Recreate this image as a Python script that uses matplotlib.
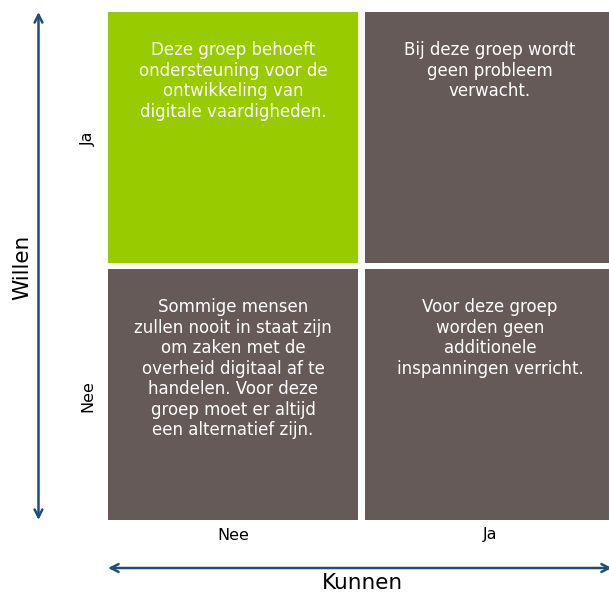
import matplotlib.pyplot as plt

# 2x2 matrix: Kunnen (x) versus Willen (y)
kunnen = ["Nee", "Ja"]
willen = ["Ja", "Nee"]          # top row first
cell_col = [0, 1, 0, 1]
cell_row = [0, 0, 1, 1]
cell_colors = ["#99CC00", "#655A57", "#655A57", "#655A57"]
cell_texts = [
    "Deze groep behoeft\nondersteuning voor de\nontwikkeling van\ndigitale vaardigheden.",
    "Bij deze groep wordt\ngeen probleem\nverwacht.",
    "Sommige mensen\nzullen nooit in staat zijn\nom zaken met de\noverheid digitaal af te\nhandelen. Voor deze\ngroep moet er altijd\neen alternatief zijn.",
    "Voor deze groep\nworden geen\nadditionele\ninspanningen verricht.",
]

arrow_col = "#1F4E79"

fig = plt.figure(figsize=(6.09, 5.94), dpi=100)
ax = fig.add_axes([0, 0, 1, 1])
ax.set_xlim(0, 609)
ax.set_ylim(594, 0)
ax.axis("off")

x0, y0 = 108, 12
cw, ch, gap = 250, 251, 7

lefts = [x0 + c * (cw + gap) for c in cell_col]
tops = [y0 + r * (ch + 6) for r in cell_row]
ax.bar(lefts, [ch] * 4, width=cw, bottom=tops, align="edge",
       color=cell_colors, edgecolor="none")

for l, t, txt in zip(lefts, tops, cell_texts):
    ax.text(l + cw / 2, t + 29, txt, ha="center", va="top", color="white",
            fontsize=12, linespacing=1.18, family="DejaVu Sans")

# column labels (Kunnen)
for c, lab in enumerate(kunnen):
    ax.text(x0 + c * (cw + gap) + cw / 2, 535, lab, ha="center", va="center",
            fontsize=11.5, color="black", family="DejaVu Sans")

# row labels (Willen)
for r, lab in enumerate(willen):
    ax.text(88, y0 + r * (ch + 6) + 127, lab, ha="center", va="center",
            rotation=90, fontsize=11.5, color="black", family="DejaVu Sans")

# axis arrows
ax.annotate("", xy=(38.5, 12), xytext=(38.5, 520),
            arrowprops=dict(arrowstyle="<->", color=arrow_col, lw=1.8,
                            mutation_scale=14, shrinkA=0, shrinkB=0))
ax.annotate("", xy=(108, 568), xytext=(612, 568),
            arrowprops=dict(arrowstyle="<->", color=arrow_col, lw=1.8,
                            mutation_scale=14, shrinkA=0, shrinkB=0))

ax.text(22, 267, "Willen", rotation=90, ha="center", va="center",
        fontsize=15.5, family="DejaVu Sans")
ax.text(362, 583, "Kunnen", ha="center", va="center",
        fontsize=15.5, family="DejaVu Sans")

fig.savefig("out.png", dpi=100)
